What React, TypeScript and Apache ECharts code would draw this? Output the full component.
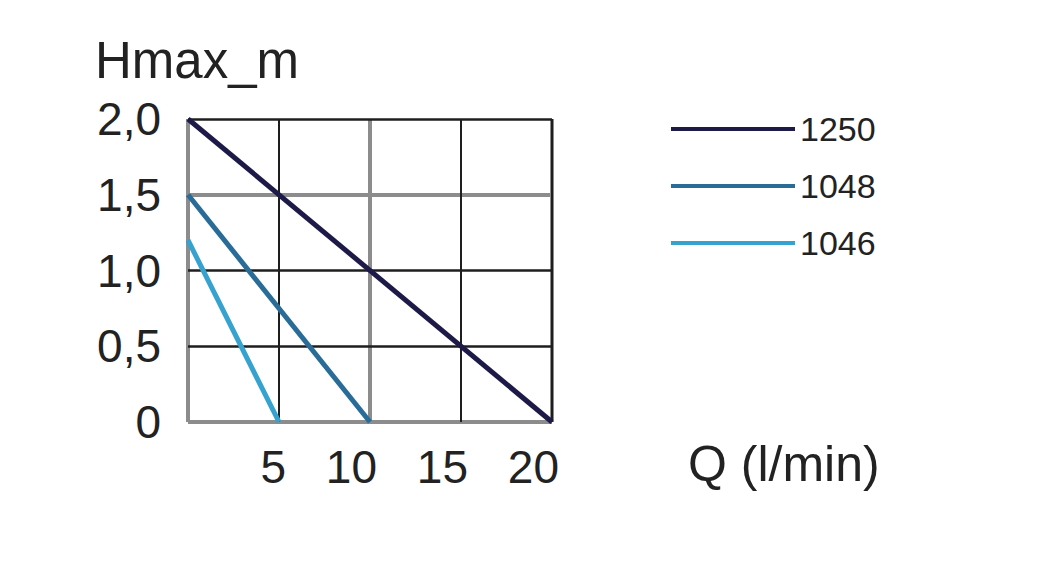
import React, { useEffect, useRef } from "react";
import * as echarts from "echarts";

const seriesNames = ["1250", "1048", "1046"];
const seriesColors = ["#1d1a47", "#2a6c98", "#36a2cf"];
const flowQ = [
  [0, 20],
  [0, 10],
  [0, 5],
];
const headH = [
  [2.0, 0],
  [1.5, 0],
  [1.2, 0],
];
const yTitle = "Hmax_m";
const xTitle = "Q (l/min)";

const GREY = "#8c8c8c";
const BLACK = "#1e1e1e";
const NONE = "rgba(0,0,0,0)";
const FONT = "'Liberation Sans', Arial, Helvetica, sans-serif";

export default function App() {
  const ref = useRef<HTMLDivElement>(null);
  useEffect(() => {
    document.body.style.margin = "0";
    if (!ref.current) return;
    const chart = echarts.init(ref.current, undefined, { renderer: "svg" });
    const baseX = { type: "value", min: 0, max: 20, interval: 5, gridIndex: 0, position: "bottom", axisLine: { show: false }, axisTick: { show: false } };
    const baseY = { type: "value", min: 0, max: 2, interval: 0.5, gridIndex: 0, position: "left", axisLine: { show: false }, axisTick: { show: false } };
    chart.setOption({
      animation: false,
      backgroundColor: "#ffffff",
      title: [
        { text: yTitle, left: 90, top: 30, textStyle: { fontFamily: FONT, fontSize: 51, fontWeight: "normal", color: "#222" } },
        { text: xTitle, left: 683, top: 434, textStyle: { fontFamily: FONT, fontSize: 50, fontWeight: "normal", color: "#222" } },
      ],
      legend: {
        orient: "vertical",
        left: 671,
        top: 112,
        icon: "rect",
        itemWidth: 124,
        itemHeight: 4,
        itemGap: 23,
        padding: 0,
        data: seriesNames,
        textStyle: { fontFamily: FONT, fontSize: 34, color: "#222" },
      },
      grid: { left: 188, right: 498, top: 119, bottom: 150 },
      xAxis: [
        {
          ...baseX,
          z: 0,
          axisLabel: {
            show: true,
            fontFamily: FONT,
            fontSize: 46,
            color: "#222",
            margin: 22,
            align: "right",
            padding: [0, -7, 0, 0],
            formatter: (v: number) => (v === 0 ? "" : String(v)),
          },
          splitLine: { show: true, lineStyle: { width: 4, color: [GREY, NONE, GREY, NONE, GREY] } },
        },
        {
          ...baseX,
          z: 1,
          axisLabel: { show: false },
          splitLine: { show: true, lineStyle: { width: 2, color: [NONE, BLACK, NONE, BLACK, BLACK] } },
        },
      ],
      yAxis: [
        {
          ...baseY,
          z: 0,
          axisLabel: {
            show: true,
            fontFamily: FONT,
            fontSize: 46,
            color: "#222",
            margin: 27,
            formatter: (v: number) => (v === 0 ? "0" : v.toFixed(1).replace(".", ",")),
          },
          splitLine: { show: true, lineStyle: { width: 4, color: [GREY, NONE, NONE, GREY, NONE] } },
        },
        {
          ...baseY,
          z: 1,
          axisLabel: { show: false },
          splitLine: { show: true, lineStyle: { width: 2.5, color: [NONE, BLACK, BLACK, NONE, BLACK] } },
        },
      ],
      series: seriesNames.map((name, i) => ({
        name,
        type: "line",
        xAxisIndex: 0,
        yAxisIndex: 0,
        symbol: "none",
        clip: false,
        z: 5,
        color: seriesColors[i],
        lineStyle: { width: 5, color: seriesColors[i] },
        data: flowQ[i].map((q, j) => [q, headH[i][j]]),
      })),
    });
    return () => chart.dispose();
  }, []);
  return <div ref={ref} style={{ width: 1050, height: 572 }} />;
}
